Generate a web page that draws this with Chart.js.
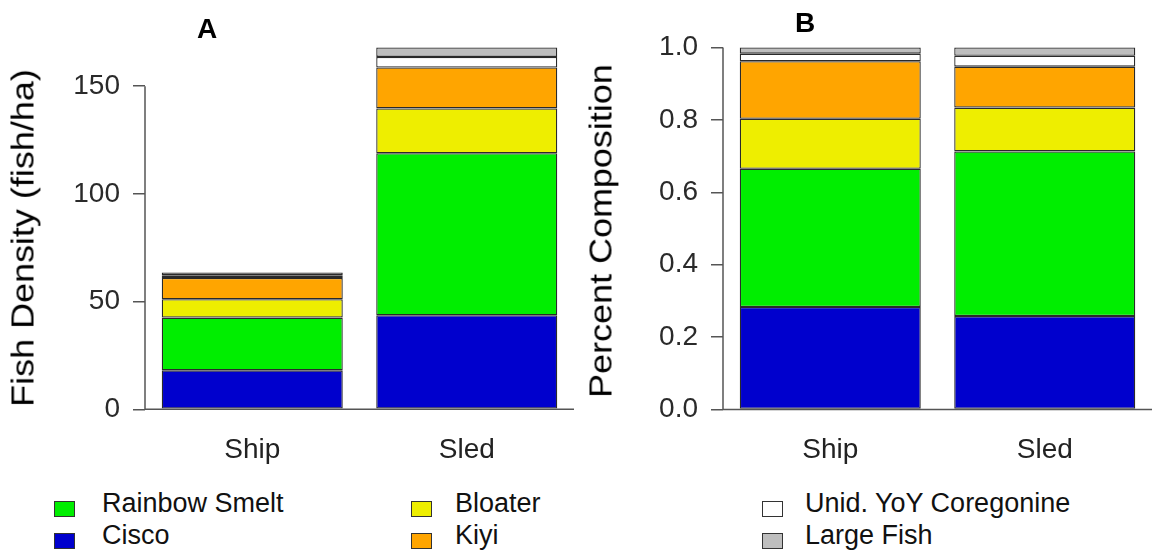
<!DOCTYPE html>
<html>
<head>
<meta charset="utf-8">
<script src="https://cdn.jsdelivr.net/npm/chart.js@4.4.1/dist/chart.umd.min.js"></script>
<style>
  html, body { margin: 0; padding: 0; background: #fff; width: 1153px; height: 553px; overflow: hidden;
    font-family: "Liberation Sans", Arial, Helvetica, sans-serif; }
  canvas { position: absolute; top: 0; }
  #chartA { left: 0; }
  #chartB { left: 580px; }
  .panel { position: absolute; font-weight: bold; font-size: 28px; line-height: 28px; color: #000;
    transform: translateX(-50%); }
  .ytitle { position: absolute; font-size: 31px; line-height: 31px; white-space: nowrap; color: #000;
    transform: translate(-50%, -50%) rotate(-90deg) scaleX(1.16); }
  .leg { position: absolute; font-size: 27px; line-height: 27px; color: #111; white-space: nowrap; }
  .sw { position: absolute; width: 19px; height: 14px; border: 1px solid #333; }
</style>
</head>
<body>
<canvas id="chartA" width="574" height="470"></canvas>
<canvas id="chartB" width="572" height="470"></canvas>
<div class="panel" style="left:207px; top:15px;">A</div>
<div class="panel" style="left:805px; top:9px;">B</div>
<div class="ytitle" style="left:23px; top:238px;">Fish Density (fish/ha)</div>
<div class="ytitle" style="left:601px; top:231px;">Percent Composition</div>
<div id="legend"></div>

<script>
// Sampling gear
const categories = ['Ship', 'Sled'];

// Species, stacked bottom to top
const speciesNames = ['Cisco', 'Rainbow Smelt', 'Bloater', 'Kiyi', 'Unid. YoY Coregonine', 'Large Fish'];
const speciesColors = ['#0000CD', '#00EE00', '#EEEE00', '#FFA500', '#FFFFFF', '#BEBEBE'];

// Fish density (fish/ha) per gear
const ciscoDensity        = [18.1, 43.7];
const rainbowSmeltDensity = [24.5, 75.2];
const bloaterDensity      = [8.5, 20.8];
const kiyiDensity         = [9.9, 19.0];
const unidYoYDensity      = [1.2, 4.9];
const largeFishDensity    = [1.3, 4.4];

// Percent composition per gear
const ciscoShare        = [0.283, 0.258];
const rainbowSmeltShare = [0.382, 0.455];
const bloaterShare      = [0.138, 0.121];
const kiyiShare         = [0.159, 0.113];
const unidYoYShare      = [0.021, 0.030];
const largeFishShare    = [0.017, 0.023];

// Axis tick labels
const densityTicks = [0, 50, 100, 150];
const compositionTicks = [0, 0.2, 0.4, 0.6, 0.8, 1.0];

// Legend layout: columns of two entries
const legendOrder = ['Rainbow Smelt', 'Cisco', 'Bloater', 'Kiyi', 'Unid. YoY Coregonine', 'Large Fish'];

const FONT = '"Liberation Sans", Arial, Helvetica, sans-serif';
Chart.defaults.font.family = FONT;

// Draws the y axis line over the labelled tick range and the baseline at zero
const axisLines = {
  id: 'axisLines',
  afterDraw(chart, args, opts) {
    const { ctx, chartArea, scales: { y } } = chart;
    const top = y.getPixelForValue(opts.top);
    const base = y.getPixelForValue(0);
    ctx.save();
    ctx.strokeStyle = '#555';
    ctx.lineWidth = 1.5;
    ctx.beginPath();
    ctx.moveTo(chartArea.left, top);
    ctx.lineTo(chartArea.left, base);
    ctx.moveTo(chartArea.left, base);
    ctx.lineTo(chartArea.right, base);
    ctx.stroke();
    ctx.restore();
  }
};

function makeChart(canvasId, series, ticks, min, max, fmt, axisWidth) {
  return new Chart(document.getElementById(canvasId), {
    type: 'bar',
    data: {
      labels: categories,
      datasets: series.map((vals, i) => ({
        label: speciesNames[i],
        data: vals,
        backgroundColor: speciesColors[i],
        borderColor: '#2a2a2a',
        borderWidth: 1.3,
        borderSkipped: false,
        categoryPercentage: 1,
        barPercentage: 0.844
      }))
    },
    options: {
      responsive: false,
      animation: false,
      devicePixelRatio: 1,
      layout: { padding: { top: 33, left: 0, right: 0, bottom: 0 } },
      plugins: {
        legend: { display: false },
        tooltip: { enabled: false },
        axisLines: { top: ticks[ticks.length - 1] }
      },
      scales: {
        x: {
          stacked: true,
          grid: { display: false },
          border: { display: false },
          ticks: { color: '#222', font: { size: 28 }, padding: 1, maxRotation: 0 },
          afterFit(s) { s.height = 46; }
        },
        y: {
          stacked: true,
          min: min,
          max: max,
          grid: { display: true, drawOnChartArea: false, drawTicks: true, tickLength: 12, color: '#555', lineWidth: 1.5 },
          border: { display: false },
          afterBuildTicks(s) { s.ticks = ticks.map(v => ({ value: v })); },
          ticks: { color: '#2a2a2a', font: { size: 28 }, padding: 13, callback: fmt },
          afterFit(s) { s.width = axisWidth; }
        }
      }
    },
    plugins: [axisLines]
  });
}

makeChart('chartA',
  [ciscoDensity, rainbowSmeltDensity, bloaterDensity, kiyiDensity, unidYoYDensity, largeFishDensity],
  densityTicks, -6.8, 174.7, v => String(v), 145);

makeChart('chartB',
  [ciscoShare, rainbowSmeltShare, bloaterShare, kiyiShare, unidYoYShare, largeFishShare],
  compositionTicks, -0.04, 1.04, v => v.toFixed(1), 143);

// Legend, three columns by two rows
const legendCols = [{ sw: 54, text: 102 }, { sw: 411, text: 455 }, { sw: 762, text: 805 }];
const legendRows = [{ sw: 501, text: 490 }, { sw: 533, text: 522 }];
const legend = document.getElementById('legend');
legendOrder.forEach((name, k) => {
  const col = legendCols[Math.floor(k / 2)];
  const row = legendRows[k % 2];
  const sw = document.createElement('div');
  sw.className = 'sw';
  sw.style.left = col.sw + 'px';
  sw.style.top = row.sw + 'px';
  sw.style.background = speciesColors[speciesNames.indexOf(name)];
  legend.appendChild(sw);
  const t = document.createElement('div');
  t.className = 'leg';
  t.style.left = col.text + 'px';
  t.style.top = row.text + 'px';
  t.textContent = name;
  legend.appendChild(t);
});
</script>
</body>
</html>
